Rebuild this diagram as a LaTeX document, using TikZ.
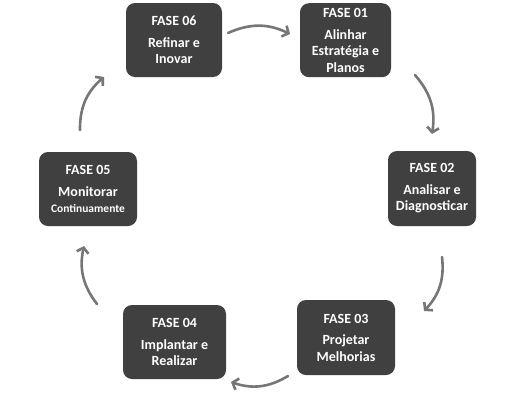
\documentclass[tikz,border=0pt]{standalone}
\usepackage{fontspec}
\setmainfont{Carlito}
\usetikzlibrary{arrows.meta}
\definecolor{boxfill}{HTML}{404040}
\definecolor{arrowgray}{HTML}{767676}
\tikzset{
  phase/.style={fill=boxfill, rounded corners=9pt, text=white, align=center,
    font=\bfseries\fontsize{14}{16.5}\selectfont, inner sep=0pt},
  cyc/.style={draw=arrowgray, line width=2.6pt, line cap=round,
    -{Straight Barb[length=5pt,width=12pt,line width=2.6pt]}, bend left=25},
}
\begin{document}
\begin{tikzpicture}[x=1pt,y=-1pt]
\useasboundingbox (0,0) rectangle (514,410);
% boxes
\node[phase, minimum width=96pt, minimum height=74pt] (f6) at (174,40) {FASE 06\\[5pt]Refinar e\\Inovar};
\node[phase, minimum width=91pt, minimum height=74pt, anchor=north] (f1) at (345.5,3) {\rule{0pt}{10pt}FASE 01\\[5pt]Alinhar\\Estratégia e\\Planos};
\node[phase, minimum width=88pt, minimum height=75pt] (f2) at (432,188.5) {FASE 02\\[5pt]Analisar e\\Diagnosticar};
\node[phase, minimum width=98pt, minimum height=75pt] (f3) at (346,337.5) {FASE 03\\[5pt]Projetar\\Melhorias};
\node[phase, minimum width=103pt, minimum height=74pt] (f4) at (174.5,342) {FASE 04\\[5pt]Implantar e\\Realizar};
\node[phase, minimum width=98pt, minimum height=74pt] (f5) at (88,189) {FASE 05\\[5pt]Monitorar\\{\fontsize{11.5}{14}\selectfont Continuamente}};
% arrow end points
\coordinate (a6s) at (228,33);
\coordinate (a6e) at (290,34);
\coordinate (a1s) at (415,75);
\coordinate (a1e) at (432,134);
\coordinate (a2s) at (442,257);
\coordinate (a2e) at (424,311);
\coordinate (a3s) at (288,376);
\coordinate (a3e) at (231,382);
\coordinate (a4s) at (97,304);
\coordinate (a4e) at (84,246);
\coordinate (a5s) at (80,130);
\coordinate (a5e) at (104,77);
\draw[cyc] (a6s) to (a6e);
\draw[cyc] (a1s) to (a1e);
\draw[cyc] (a2s) to (a2e);
\draw[cyc] (a3s) to (a3e);
\draw[cyc] (a4s) to (a4e);
\draw[cyc] (a5s) to (a5e);
\end{tikzpicture}
\end{document}
